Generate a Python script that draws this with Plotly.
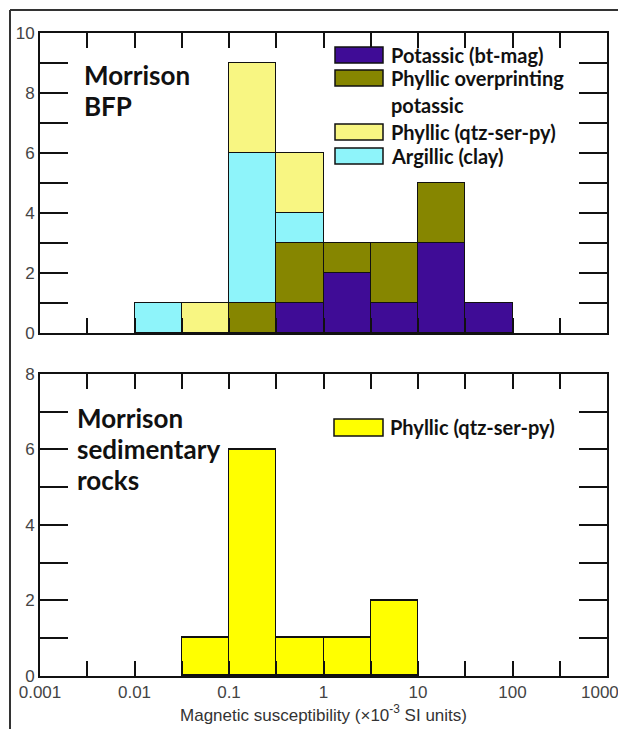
import numpy as np
import plotly.graph_objects as go

# ---- data ----
bin_left = [0.01, 0.0316, 0.1, 0.316, 1, 3.16, 10, 31.6]   # bin lower edges (x10^-3 SI)
bin_right = [0.0316, 0.1, 0.316, 1, 3.16, 10, 31.6, 100]
potassic = [0, 0, 0, 1, 2, 1, 3, 1]
overprint = [0, 0, 1, 2, 1, 2, 2, 0]
argillic = [1, 0, 5, 1, 0, 0, 0, 0]
phyllic = [0, 1, 3, 2, 0, 0, 0, 0]
sed_phyllic = [0, 1, 6, 1, 1, 2, 0, 0]

x_ticks = [0.001, 0.01, 0.1, 1, 10, 100, 1000]
x_ticklabels = ["0.001", "0.01", "0.1", "1", "10", "100", "1000"]

# ---- style ----
C_POT = "#3f0c96"
C_OVR = "#868600"
C_PHY = "#f8f682"
C_ARG = "#8ef4fa"
C_SED = "#ffff00"
LINE = dict(color="#111111", width=1.5)

lo = np.log10(bin_left)
hi = np.log10(bin_right)
centers = (lo + hi) / 2
widths = hi - lo

def nz(vals):
    return [v if v else None for v in vals]

fig = go.Figure()

top_series = [("Potassic (bt-mag)", potassic, C_POT),
              ("Phyllic overprinting potassic", overprint, C_OVR),
              ("Argillic (clay)", argillic, C_ARG),
              ("Phyllic (qtz-ser-py)", phyllic, C_PHY)]
for name, vals, col in top_series:
    fig.add_trace(go.Bar(x=centers, y=nz(vals), width=widths, name=name,
                         marker=dict(color=col, line=LINE),
                         xaxis="x", yaxis="y", showlegend=False))

fig.add_trace(go.Bar(x=centers, y=nz(sed_phyllic), width=widths, name="Phyllic (qtz-ser-py)",
                     marker=dict(color=C_SED, line=LINE),
                     xaxis="x2", yaxis="y2", showlegend=False))

# half-decade tick positions
half_ticks = []
for e in range(-3, 3):
    half_ticks += [e, e + 0.5]
half_ticks.append(3)
lab = dict(zip([float(np.log10(v)) for v in x_ticks], x_ticklabels))
half_text = [lab.get(float(t), " ") for t in half_ticks]
# last label sits at the page edge: pad it so it is pulled slightly inward
half_text[-1] = half_text[-1] + "\u00a0\u00a0\u00a0"

tickfont = dict(family="Liberation Sans, Arial", size=17, color="#444444")
xcommon = dict(range=[-3, 3], tickmode="array", tickvals=half_ticks,
               ticks="inside", ticklen=15, tickwidth=2, tickcolor="#111111",
               showline=True, linecolor="#111111", linewidth=2, mirror="allticks",
               showgrid=False, zeroline=False, tickfont=tickfont, automargin=False,
               ticklabeloverflow="allow")
ycommon = dict(ticks="inside", ticklen=28, tickwidth=2, tickcolor="#111111",
               showline=True, linecolor="#111111", linewidth=2, mirror="allticks",
               showgrid=False, zeroline=False, tickfont=tickfont, tickmode="array",
               automargin=False)

fig.update_layout(
    xaxis=dict(xcommon, domain=[0, 1], anchor="y", ticktext=[" "] * len(half_ticks), showticklabels=False),
    yaxis=dict(ycommon, domain=[0.5334, 1], anchor="x", range=[0, 10],
               tickvals=list(range(0, 11)), ticktext=[str(i) if i % 2 == 0 else " " for i in range(0, 11)]),
    xaxis2=dict(xcommon, domain=[0, 1], anchor="y2", ticktext=half_text,
                title=dict(text="Magnetic susceptibility (×10<sup>-3</sup> SI units)",
                           font=dict(family="Liberation Sans, Arial", size=17, color="#333333"),
                           standoff=4)),
    yaxis2=dict(ycommon, domain=[0, 0.4697], anchor="x2", range=[0, 8],
                tickvals=list(range(0, 9)), ticktext=[str(i) if i % 2 == 0 else " " for i in range(0, 9)]),
    barmode="stack",
    bargap=0,
    width=618, height=729,
    margin=dict(l=40, r=11, t=33, b=53, autoexpand=False),
    paper_bgcolor="white", plot_bgcolor="white",
    showlegend=False,
)

# ---- page frame (top and left lines) ----
PW, PH = 567.0, 643.0
def px(xp):
    return (xp - 40) / PW
def py(yp):
    return 1 - (yp - 33) / PH

fig.add_shape(type="line", xref="paper", yref="paper", x0=px(10), x1=px(640), y0=py(10), y1=py(10),
              line=dict(color="#333333", width=2))
fig.add_shape(type="line", xref="paper", yref="paper", x0=px(10), x1=px(10), y0=py(10), y1=py(760),
              line=dict(color="#333333", width=2))

# ---- manual legends ----
legfont = dict(family="Lato, Open Sans, sans-serif", size=20, color="#111111")
def swatch(x0, y0, x1, y1, col):
    fig.add_shape(type="rect", xref="paper", yref="paper", x0=px(x0), x1=px(x1), y0=py(y1), y1=py(y0),
                  fillcolor=col, line=dict(color="#111111", width=1.5))
def legtext(x, y, text):
    fig.add_annotation(xref="paper", yref="paper", x=px(x), y=py(y), text="<b>%s</b>" % text,
                       showarrow=False, xanchor="left", yanchor="middle", font=legfont)

top_legend = [("Potassic (bt-mag)", C_POT, 55),
              ("Phyllic overprinting", C_OVR, 78),
              ("Phyllic (qtz-ser-py)", C_PHY, 132),
              ("Argillic (clay)", C_ARG, 156)]
for text, col, yc in top_legend:
    swatch(335, yc - 8, 383, yc + 8, col)
    legtext(389, yc, text)
legtext(389, 105, "potassic")

swatch(334, 419, 383, 436, C_SED)
legtext(388, 427, "Phyllic (qtz-ser-py)")

# ---- panel labels ----
labfont = dict(family="Lato, Open Sans, sans-serif", size=26, color="#111111")
def panel_label(x, y, text):
    fig.add_annotation(xref="paper", yref="paper", x=px(x), y=py(y), text="<b>%s</b>" % text,
                       showarrow=False, xanchor="left", yanchor="middle", align="left", font=labfont)
panel_label(82, 75, "Morrison")
panel_label(82, 106, "BFP")
panel_label(75, 418, "Morrison")
panel_label(75, 449, "sedimentary")
panel_label(75, 480, "rocks")

fig.write_html("out.html", config={"displayModeBar": False},
               post_script="document.body.style.margin='0';document.body.style.padding='0';")
